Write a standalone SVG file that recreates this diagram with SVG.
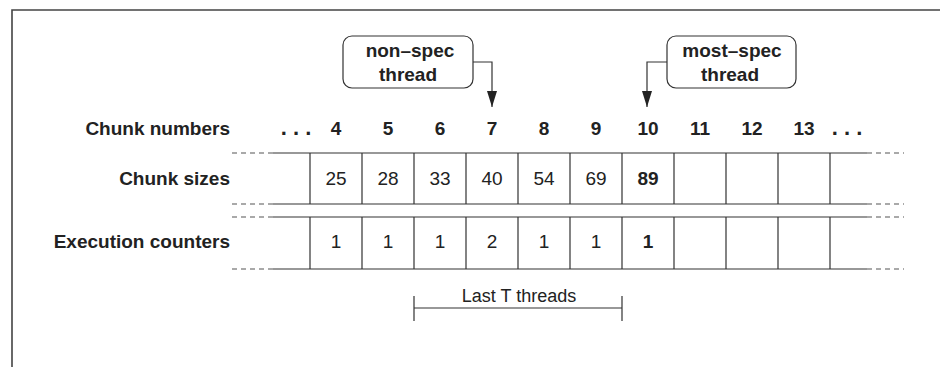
<svg xmlns="http://www.w3.org/2000/svg" width="940" height="367" viewBox="0 0 940 367">
<style>
text{font-family:"Liberation Sans",Arial,sans-serif;fill:#222}
.b{font-weight:bold}
.lbl{font-size:19px;font-weight:bold;text-anchor:end}
.num{font-size:19px;font-weight:bold;text-anchor:middle}
.val{font-size:19px;text-anchor:middle}
.ln{stroke:#333;stroke-width:1.2;fill:none}
.dash{stroke:#555;stroke-width:1.2;stroke-dasharray:5,4;fill:none}
.box{fill:#fff;stroke:#333;stroke-width:1.2}
</style>
<defs>
<marker id="ah" markerWidth="16" markerHeight="10" refX="16" refY="5" orient="auto" markerUnits="userSpaceOnUse" viewBox="0 0 16 10">
<path d="M0,0 L16,5 L0,10 Z" fill="#222"/>
</marker>
</defs>
<rect width="940" height="367" fill="#fff"/>
<path d="M12,367 V10 H940" stroke="#444" stroke-width="1.6" fill="none"/>
<g id="labels">
<text class="lbl" x="230" y="135">Chunk numbers</text>
<text class="lbl" x="230" y="185">Chunk sizes</text>
<text class="lbl" x="230" y="248">Execution counters</text>
</g>
<g id="numbers">
<text class="num" x="296" y="135" style="font-size:22px">. . .</text>
<text class="num" x="336" y="135">4</text>
<text class="num" x="388" y="135">5</text>
<text class="num" x="440" y="135">6</text>
<text class="num" x="492" y="135">7</text>
<text class="num" x="544" y="135">8</text>
<text class="num" x="596" y="135">9</text>
<text class="num" x="648" y="135">10</text>
<text class="num" x="700" y="135">11</text>
<text class="num" x="752" y="135">12</text>
<text class="num" x="804" y="135">13</text>
<text class="num" x="847" y="135" style="font-size:22px">. . .</text>
</g>
<g id="table">
<path class="ln" d="M273,153 H867 M273,204 H867 M273,217 H867 M273,269 H867"/>
<path class="dash" d="M232,153 H273 M232,204 H273 M232,217 H273 M232,269 H273 M867,153 H904 M867,204 H904 M867,217 H904 M867,269 H904"/>
<path class="ln" d="M310,153 V204 M362,153 V204 M414,153 V204 M466,153 V204 M518,153 V204 M570,153 V204 M622,153 V204 M674,153 V204 M726,153 V204 M778,153 V204 M830,153 V204"/>
<path class="ln" d="M310,217 V269 M362,217 V269 M414,217 V269 M466,217 V269 M518,217 V269 M570,217 V269 M622,217 V269 M674,217 V269 M726,217 V269 M778,217 V269 M830,217 V269"/>
<text class="val" x="336" y="185">25</text>
<text class="val" x="388" y="185">28</text>
<text class="val" x="440" y="185">33</text>
<text class="val" x="492" y="185">40</text>
<text class="val" x="544" y="185">54</text>
<text class="val" x="596" y="185">69</text>
<text class="val b" x="648" y="185">89</text>
<text class="val" x="336" y="248">1</text>
<text class="val" x="388" y="248">1</text>
<text class="val" x="440" y="248">1</text>
<text class="val" x="492" y="248">2</text>
<text class="val" x="544" y="248">1</text>
<text class="val" x="596" y="248">1</text>
<text class="val b" x="648" y="248">1</text>
</g>
<g id="nonspec">
<rect class="box" x="343" y="36" width="130" height="52" rx="9"/>
<text class="num" x="410" y="57">non–spec</text>
<text class="num" x="408" y="81">thread</text>
</g>
<g id="mostspec">
<rect class="box" x="667" y="36" width="129" height="52" rx="9"/>
<text class="num" x="732" y="57">most–spec</text>
<text class="num" x="730" y="81">thread</text>
</g>
<g id="connectors">
<path class="ln" d="M473,62 H492 V107" marker-end="url(#ah)"/>
<path class="ln" d="M667,62 H647 V107" marker-end="url(#ah)"/>
</g>
<g id="lastT">
<path class="ln" d="M414,308 H622 M414,296 V321 M622,296 V321"/>
<text class="val" x="519" y="302" style="font-size:18px">Last T threads</text>
</g>
</svg>
